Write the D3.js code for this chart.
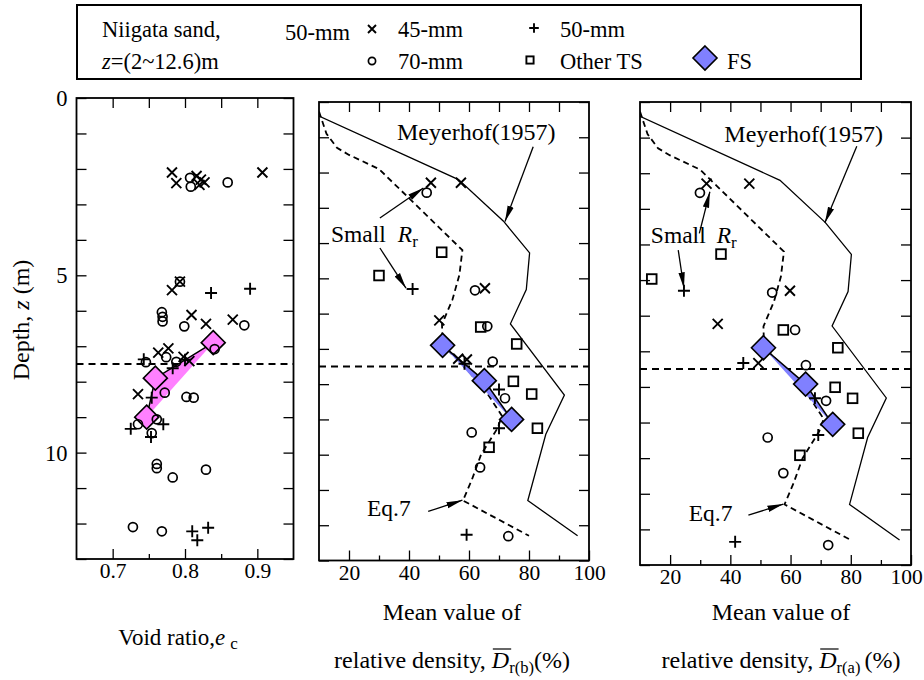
<!DOCTYPE html>
<html><head><meta charset="utf-8">
<script src="https://cdn.jsdelivr.net/npm/d3@7"></script>
<style>
body{margin:0;background:#fff;}
svg text{font-family:'Liberation Serif','DejaVu Serif',serif;fill:#000;}
</style></head><body>
<svg id="c" width="924" height="680" font-family="Liberation Serif"></svg>
<script>
// ---------------- DATA ----------------
const depthTicks = d3.range(0, 14, 1);
const depthLabels = [0, 5, 10];
const eTicksMajor = [0.7, 0.8, 0.9];
const eTicksMinor = [0.75, 0.85];
const eTicksTop = [0.7, 0.75, 0.8, 0.85, 0.9];
const drTicksMajor = [20, 40, 60, 80, 100];
const drTicksMinor = [30, 50, 70, 90];
const drTicksTop = [20, 30, 40, 50, 60, 70, 80, 90];
const boundaryDepth = 7.5;

// Void ratio panel  [e, z]
const e_x45 = [[0.782,2.1],[0.788,2.4],[0.816,2.2],[0.822,2.3],[0.827,2.38],[0.820,2.45],[0.907,2.1],[0.793,5.18],[0.782,5.42],[0.809,6.12],[0.829,6.37],[0.866,6.25],[0.777,7.06],[0.763,7.18],[0.798,7.3],[0.806,7.42],[0.735,8.35]];
const e_o70 = [[0.807,2.25],[0.808,2.5],[0.859,2.38],[0.793,5.18],[0.768,6.04],[0.769,6.17],[0.769,6.3],[0.799,6.44],[0.882,6.41],[0.841,7.08],[0.774,7.31],[0.746,7.45],[0.788,7.44],[0.772,8.31],[0.802,8.43],[0.812,8.45],[0.761,9.06],[0.735,9.2],[0.754,9.45],[0.761,10.32],[0.761,10.44],[0.783,10.7],[0.829,10.48],[0.728,12.1],[0.768,12.22]];
const e_p50 = [[0.836,5.5],[0.890,5.38],[0.743,7.37],[0.800,7.38],[0.783,7.62],[0.754,8.45],[0.725,9.33],[0.770,9.2],[0.753,9.56],[0.810,12.22],[0.817,12.47],[0.832,12.12]];
const e_fs = [[0.839,6.9],[0.759,7.9],[0.747,9.0]];

// Dr(b) panel  [Dr, z]
const drb_x45 = [[47.3,2.29],[57.3,2.29],[65.3,5.28],[50.1,6.19],[56.4,7.28],[59.3,7.3]];
const drb_o70 = [[45.9,2.57],[62.0,5.34],[66.1,6.36],[67.9,7.36],[72.0,8.4],[60.9,9.37],[63.7,10.36],[73.1,12.31]];
const drb_p50 = [[41.2,5.3],[58.5,7.42],[70.0,8.15],[70.0,9.25],[59.2,12.27]];
const drb_sq = [[50.9,4.26],[30.0,4.92],[63.9,6.38],[75.9,6.86],[74.8,7.92],[80.9,8.28],[82.8,9.25],[66.7,9.79]];
const drb_fs = [[51.2,6.9],[65.1,7.9],[74.2,9.0]];

// Dr(a) panel  [Dr, z]
const dra_x45 = [[32.1,2.29],[46.3,2.29],[59.8,5.3],[35.8,6.23],[49.3,7.33]];
const dra_o70 = [[29.9,2.55],[53.9,5.35],[61.5,6.4],[65.1,7.39],[71.8,8.39],[52.4,9.42],[57.6,10.42],[72.5,12.44]];
const dra_p50 = [[24.6,5.3],[44.3,7.33],[68.1,8.32],[69.2,9.35],[41.6,12.35]];
const dra_sq = [[36.9,4.27],[13.9,4.97],[57.6,6.4],[75.7,6.9],[74.8,8.01],[80.6,8.32],[82.5,9.3],[63.1,9.92]];
const dra_fs = [[51.0,6.9],[65.0,7.92],[74.0,9.05]];

// Reference curves [Dr, z]
const meyerhof = [[10,0.4],[56.5,2.2],[71.5,3.38],[80.2,4.28],[79.1,5.32],[73.8,6.29],[91.8,8.31],[85.6,9.42],[79.6,11.3],[96.2,12.3]];
const eq7 = [[10,0.27],[12.5,0.9],[16,1.3],[20,1.5],[30,1.9],[57.8,4.2],[56.8,4.9],[54.5,5.6],[51,6.3],[51.2,6.9],[58,7.45],[66,8.25],[71,8.9],[69.5,9.25],[64,10.0],[61,10.7],[58,11.3],[80,12.3]];

// ---------------- LAYOUT ----------------
const SERIF = 'Liberation Serif';
const svg = d3.select('#c');
svg.append('defs').append('marker')
  .attr('id','ah').attr('viewBox','0 0 16 8').attr('refX',16).attr('refY',4)
  .attr('markerWidth',16).attr('markerHeight',8).attr('markerUnits','userSpaceOnUse')
  .attr('orient','auto')
  .append('path').attr('d','M0,0.8 L16,4 L0,7.2 Z').attr('fill','#000');

const FS_PINK = '#ff80ff', FS_BLUE = '#8080ff';

function drawMarkers(g, data, type, x, y, sz) {
  const s = sz || 1;
  const sel = g.append('g').selectAll(null).data(data).enter();
  if (type === 'o') {
    sel.append('circle').attr('cx', d => x(d[0])).attr('cy', d => y(d[1]))
      .attr('r', 4.5 * s).attr('fill', 'none').attr('stroke', '#000').attr('stroke-width', 1.7);
  } else if (type === 'x') {
    const a = 5 * s;
    sel.append('path').attr('transform', d => `translate(${x(d[0])},${y(d[1])})`)
      .attr('d', `M${-a},${-a}L${a},${a}M${-a},${a}L${a},${-a}`)
      .attr('stroke', '#000').attr('stroke-width', 1.9).attr('fill', 'none');
  } else if (type === 'p') {
    const a = 6 * s;
    sel.append('path').attr('transform', d => `translate(${x(d[0])},${y(d[1])})`)
      .attr('d', `M${-a},0H${a}M0,${-a}V${a}`)
      .attr('stroke', '#000').attr('stroke-width', 1.9).attr('fill', 'none');
  } else if (type === 's') {
    const a = 4.8 * s;
    sel.append('rect').attr('x', d => x(d[0]) - a).attr('y', d => y(d[1]) - a)
      .attr('width', 2 * a).attr('height', 2 * a)
      .attr('fill', 'none').attr('stroke', '#000').attr('stroke-width', 1.9);
  }
}
function drawDiamonds(g, data, x, y, color) {
  const a = 12;
  g.append('g').selectAll(null).data(data).enter().append('path')
    .attr('transform', d => `translate(${x(d[0])},${y(d[1])})`)
    .attr('d', `M0,${-a}L${a},0L0,${a}L${-a},0Z`)
    .attr('fill', color).attr('stroke', '#000').attr('stroke-width', 1.6);
}
function txt(g, x, y, s, size) {
  return g.append('text').attr('x', x).attr('y', y).attr('font-family', SERIF)
    .attr('font-size', size || 24).text(s || null);
}

function panel(box, xDomain, opts) {
  const g = svg.append('g');
  const x = d3.scaleLinear().domain(xDomain).range([box.x0, box.x1]);
  const y = d3.scaleLinear().domain([0, 13]).range([box.y0, box.y1]);

  const noLab = () => '';
  g.append('g').attr('transform', `translate(0,${box.y1})`)
    .call(d3.axisBottom(x).tickValues(opts.minor).tickSize(-5).tickFormat(noLab));
  const bx = g.append('g').attr('transform', `translate(0,${box.y1})`)
    .call(d3.axisBottom(x).tickValues(opts.major).tickSize(-10).tickFormat(opts.fmt));
  bx.selectAll('text').attr('y', 19).attr('dy', null).attr('font-size', 21.5)
    .attr('font-family', SERIF)
    .attr('x', d => (opts.lastShift && d === opts.major[opts.major.length - 1]) ? opts.lastShift : 0);
  g.append('g').attr('transform', `translate(0,${box.y0})`)
    .call(d3.axisTop(x).tickValues(opts.top).tickSize(-10).tickFormat(noLab));
  const ly = g.append('g').attr('transform', `translate(${box.x0},0)`)
    .call(d3.axisLeft(y).tickValues(depthTicks).tickSize(-10)
      .tickFormat(d => (opts.yLabels && depthLabels.includes(d)) ? d : ''));
  ly.selectAll('text').attr('x', -9).attr('dy', '0.34em').attr('font-size', 22.5)
    .attr('font-family', SERIF);
  g.append('g').attr('transform', `translate(${box.x1},0)`)
    .call(d3.axisRight(y).tickValues(depthTicks).tickSize(-10).tickFormat(noLab));
  g.selectAll('.domain').remove();
  g.selectAll('g').attr('font-family', SERIF);
  g.selectAll('.tick line').attr('stroke', '#000').attr('stroke-width', 1.3);

  g.append('rect').attr('x', box.x0).attr('y', box.y0)
    .attr('width', box.x1 - box.x0).attr('height', box.y1 - box.y0)
    .attr('fill', 'none').attr('stroke', '#000').attr('stroke-width', 1.8);

  const clip = 'clip' + Math.round(box.x0);
  g.append('clipPath').attr('id', clip).append('rect')
    .attr('x', box.x0).attr('y', box.y0).attr('width', box.x1 - box.x0).attr('height', box.y1 - box.y0);
  const inner = g.append('g').attr('clip-path', `url(#${clip})`);

  const line = d3.line().x(d => x(d[0])).y(d => y(d[1]));
  if (opts.curves) {
    inner.append('path').datum(meyerhof).attr('d', line)
      .attr('fill', 'none').attr('stroke', '#000').attr('stroke-width', 1.3);
    inner.append('path').datum(eq7).attr('d', line)
      .attr('fill', 'none').attr('stroke', '#000').attr('stroke-width', 1.8)
      .attr('stroke-dasharray', '6,4');
  }
  inner.append('line').attr('x1', box.x0).attr('x2', box.x1)
    .attr('y1', y(boundaryDepth)).attr('y2', y(boundaryDepth))
    .attr('stroke', '#000').attr('stroke-width', 2).attr('stroke-dasharray', '7,5');

  inner.append('path').datum(opts.fs).attr('d', d => line(d) + 'Z')
    .attr('fill', opts.fsColor).attr('stroke', 'none');
  inner.append('path').datum(opts.fs).attr('d', line)
    .attr('fill', 'none').attr('stroke', '#000').attr('stroke-width', 1.5);
  drawDiamonds(inner, opts.fs, x, y, opts.fsColor);

  drawMarkers(inner, opts.x45, 'x', x, y);
  drawMarkers(inner, opts.o70, 'o', x, y);
  drawMarkers(inner, opts.p50, 'p', x, y);
  if (opts.sq) drawMarkers(inner, opts.sq, 's', x, y);

  if (opts.notes) {
    const n = opts.notes;
    const arrow = (p, q) => g.append('line')
      .attr('x1', x(p[0])).attr('y1', y(p[1])).attr('x2', x(q[0])).attr('y2', y(q[1]))
      .attr('stroke', '#000').attr('stroke-width', 1.3).attr('marker-end', 'url(#ah)');
    txt(g, x(n.meyer[0]), y(n.meyer[1]), 'Meyerhof(1957)', 24);
    arrow(n.meyerArrow[0], n.meyerArrow[1]);
    const st = txt(g, x(n.small[0]), y(n.small[1]), null, 23.5);
    st.append('tspan').text('Small');
    st.append('tspan').attr('dx', n.smallGap).attr('font-style', 'italic').text('R');
    st.append('tspan').attr('font-size', 17).attr('dy', 5).text('r');
    n.smallArrows.forEach(a => arrow(a[0], a[1]));
    txt(g, x(n.eq[0]), y(n.eq[1]), 'Eq.7', 23.5);
    arrow(n.eqArrow[0], n.eqArrow[1]);
  }
  return {x, y};
}

panel({x0: 76.5, x1: 293.5, y0: 98, y1: 559}, [0.65, 0.95], {
  major: eTicksMajor, minor: eTicksMinor, top: eTicksTop, fmt: d3.format('.1f'),
  yLabels: true, fs: e_fs, fsColor: FS_PINK,
  x45: e_x45, o70: e_o70, p50: e_p50
});
panel({x0: 319, x1: 589, y0: 102, y1: 560.5}, [10, 100], {
  major: drTicksMajor, minor: drTicksMinor, top: drTicksTop, fmt: d3.format('d'),
  yLabels: false, fs: drb_fs, fsColor: FS_BLUE, curves: true,
  x45: drb_x45, o70: drb_o70, p50: drb_p50, sq: drb_sq,
  notes: {
    meyer: [36, 1.08], meyerArrow: [[81.4, 1.27], [72, 3.39]],
    small: [14.0, 3.96], smallGap: 12,
    smallArrows: [[[30.3, 3.29], [44.8, 2.44]], [[30.3, 4.14], [39, 5.28]]],
    eq: [26.0, 11.75], eqArrow: [[46.4, 11.61], [57.8, 11.29]]
  }
});
panel({x0: 640, x1: 911, y0: 102, y1: 565}, [10, 100], {
  major: drTicksMajor, minor: drTicksMinor, top: drTicksTop, fmt: d3.format('d'),
  yLabels: false, fs: dra_fs, fsColor: FS_BLUE, curves: true, lastShift: -5,
  x45: dra_x45, o70: dra_o70, p50: dra_p50, sq: dra_sq,
  notes: {
    meyer: [38.0, 1.12], meyerArrow: [[82, 1.24], [71.4, 3.39]],
    small: [13.6, 3.97], smallGap: 11,
    smallArrows: [[[29.7, 3.69], [33.2, 2.52]], [[22.7, 4.16], [24.6, 5.23]]],
    eq: [26.2, 11.76], eqArrow: [[46, 11.6], [57.6, 11.29]]
  }
});

// Y axis title
const yt = svg.append('text').attr('transform', 'translate(29,320) rotate(-90)')
  .attr('text-anchor', 'middle').attr('font-size', 24).attr('font-family', SERIF);
yt.append('tspan').text('Depth, ');
yt.append('tspan').attr('font-style', 'italic').text('z');
yt.append('tspan').text(' (m)');

// X axis titles
const vt = txt(svg, 178, 645, null, 23).attr('text-anchor', 'middle');
vt.append('tspan').text('Void ratio,');
vt.append('tspan').attr('font-style', 'italic').text('e');
vt.append('tspan').attr('font-size', 17).attr('dx', 5).attr('dy', 4).text('c');

function drLabel(cx, sub) {
  const by = 668;
  txt(svg, cx, 620, 'Mean value of', 24).attr('text-anchor', 'middle');
  const t = txt(svg, cx, by, null, 24).attr('text-anchor', 'middle');
  t.append('tspan').text('relative density, ');
  t.append('tspan').attr('font-style', 'italic').text('D');
  t.append('tspan').attr('font-size', 16.5).attr('dy', 5).text(sub);
  t.append('tspan').attr('dy', -5).text('(%)');
  const node = t.node();
  const idx = 'relative density, '.length;
  const s = node.getStartPositionOfChar(idx), e = node.getEndPositionOfChar(idx);
  svg.append('line').attr('x1', s.x + 1).attr('x2', e.x + 2).attr('y1', by - 19).attr('y2', by - 19)
    .attr('stroke', '#000').attr('stroke-width', 1.2);
}
drLabel(452, 'r(b)');
drLabel(781, 'r(a) ');

// Legend
const lg = svg.append('g');
lg.append('rect').attr('x', 77).attr('y', 5).attr('width', 784).attr('height', 74)
  .attr('fill', '#fff').attr('stroke', '#000').attr('stroke-width', 2);
txt(lg, 102, 37, 'Niigata sand,', 22.5);
const zt = txt(lg, 102, 69, null, 22.5);
zt.append('tspan').attr('font-style', 'italic').text('z');
zt.append('tspan').text('=(2~12.6)m');
txt(lg, 285, 40, '50-mm', 22.5);
const ix = d3.scaleIdentity();
drawMarkers(lg, [[372, 29]], 'x', ix, ix, 0.8);
txt(lg, 398, 37, '45-mm', 22.5);
drawMarkers(lg, [[534, 28]], 'p', ix, ix, 0.8);
txt(lg, 560, 37, '50-mm', 22.5);
drawMarkers(lg, [[372, 61]], 'o', ix, ix, 0.8);
txt(lg, 398, 69, '70-mm', 22.5);
drawMarkers(lg, [[530, 60]], 's', ix, ix, 0.75);
txt(lg, 560, 69, 'Other TS', 22.5);
drawDiamonds(lg, [[705, 58]], ix, ix, FS_BLUE);
txt(lg, 727, 69, 'FS', 22.5);
</script>
</body></html>
